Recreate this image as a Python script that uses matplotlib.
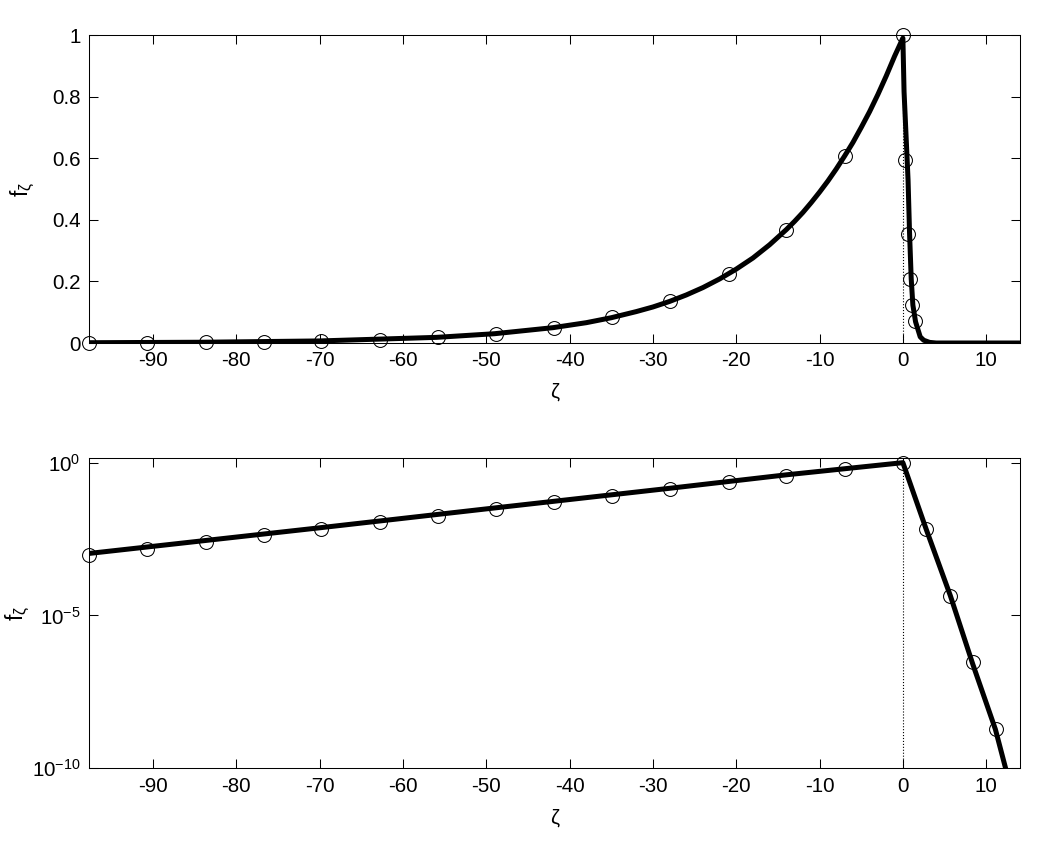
import matplotlib
matplotlib.use('Agg')
import matplotlib.pyplot as plt
from matplotlib.ticker import FixedLocator, FixedFormatter, NullLocator

plt.rcParams['font.family'] = ['Liberation Sans', 'DejaVu Sans']
plt.rcParams['mathtext.fontset'] = 'custom'
plt.rcParams['mathtext.rm'] = 'Liberation Sans'
plt.rcParams['mathtext.it'] = 'Liberation Sans'

# circles, top panel
top_mk_x = [-97.7, -90.7, -83.7, -76.7, -69.8, -62.8, -55.8, -48.8, -41.9, -34.9,
            -27.9, -20.9, -14.0, -7.0, 0.0, 0.28, 0.56, 0.84, 1.12, 1.40]
top_mk_y = [9.3e-4, 1.53e-3, 2.5e-3, 4.2e-3, 6.8e-3, 1.13e-2, 1.86e-2, 3.07e-2, 5.0e-2, 8.3e-2,
            0.136, 0.225, 0.368, 0.607, 1.0, 0.594, 0.355, 0.208, 0.123, 0.070]

# thick line, top panel
top_ln_x = [-97.7, -84, -70, -56, -49, -42, -38, -35, -32, -30, -28, -26, -24, -22, -20,
            -18, -16, -14, -13, -12, -11, -10, -9, -8, -7, -6, -5, -4, -3, -2, -1, 0,
            0.14, 0.62, 0.8, 1.0, 1.2, 1.52, 2.08, 2.5, 3.2, 4.0, 14.1]
top_ln_y = [9.3e-4, 2.5e-3, 6.7e-3, 1.83e-2, 3.02e-2, 4.98e-2, 6.6e-2, 8.21e-2, 0.102, 0.117, 0.135,
            0.156, 0.180, 0.208, 0.240, 0.276, 0.319, 0.368, 0.395, 0.424, 0.456, 0.490, 0.526,
            0.565, 0.607, 0.651, 0.700, 0.751, 0.807, 0.867, 0.931, 0.99,
            0.816, 0.53, 0.357, 0.208, 0.123, 0.069, 0.02, 0.009, 0.002, 0.0, 0.0]

# circles, bottom panel
bot_mk_x = [-97.7, -90.7, -83.7, -76.7, -69.8, -62.8, -55.8, -48.8, -41.9, -34.9,
            -27.9, -20.9, -14.0, -7.0, 0.0, 2.8, 5.69, 8.4, 11.2]
bot_mk_y = [9.3e-4, 1.48e-3, 2.5e-3, 4.2e-3, 6.8e-3, 1.13e-2, 1.86e-2, 3.07e-2, 5.0e-2, 8.3e-2,
            0.136, 0.225, 0.367, 0.607, 1.0, 6.6e-3, 4.4e-5, 3.0e-7, 1.9e-9]

# thick line, bottom panel
bot_ln_x = [-97.7, -70, -49, -28, -14, 0, 2.8, 5.69, 8.4, 11.1, 12.33, 14.1]
bot_ln_y = [1.07e-3, 7.4e-3, 3.3e-2, 0.145, 0.40, 1.0, 6.6e-3, 4.5e-5, 2.5e-7, 1.9e-9, 1e-10, 3e-12]

xticks = [-90, -80, -70, -60, -50, -40, -30, -20, -10, 0, 10]
top_yticks = [0, 0.2, 0.4, 0.6, 0.8, 1]
top_ylabels = ['0', '0.2', '0.4', '0.6', '0.8', '1']
bot_yticks = [1e-10, 1e-5, 1e0]
bot_ylabels = [r'$\mathregular{10^{-10}}$', r'$\mathregular{10^{-5}}$', r'$\mathregular{10^{0}}$']

fs = 14.8

fig = plt.figure(figsize=(10.38, 8.44), dpi=100)
ax1 = fig.add_axes([0.0857, 0.5936, 0.8973, 0.3649])
ax2 = fig.add_axes([0.0857, 0.0897, 0.8973, 0.3673])


def style(ax, ylab_x):
    ax.tick_params(direction='in', length=6.5, width=0.75, top=True, right=True,
                   labelsize=fs, pad=6, colors='black')
    for s in ax.spines.values():
        s.set_linewidth(0.75)
    ax.set_xlim(-97.7, 14.1)
    ax.set_xticks(xticks)
    ax.set_xticklabels([str(t) for t in xticks])
    ax.set_xlabel('ζ', fontsize=fs, labelpad=9)
    ax.set_ylabel(r'f$_{\mathregular{ζ}}$', fontsize=fs + 1.5)
    ax.yaxis.set_label_coords(ylab_x, 0.5)


ax1.plot([0, 0], [0, 1], color='k', ls=':', lw=0.8)
ax1.plot(top_ln_x, top_ln_y, color='k', lw=3.6, solid_joinstyle='round')
ax1.plot(top_mk_x, top_mk_y, ls='none', marker='o', ms=10, mfc='none', mec='k', mew=0.75, clip_on=False)
style(ax1, -0.055)
ax1.set_ylim(0, 1)
ax1.set_yticks(top_yticks)
ax1.set_yticklabels(top_ylabels)

ax2.plot([0, 0], [1e-10, 1], color='k', ls=':', lw=0.8)
ax2.plot(bot_ln_x, bot_ln_y, color='k', lw=3.6, solid_joinstyle='round')
ax2.plot(bot_mk_x, bot_mk_y, ls='none', marker='o', ms=10, mfc='none', mec='k', mew=0.75, clip_on=False)
ax2.set_yscale('log')
style(ax2, -0.06)
ax2.set_ylim(1e-10, 1.39)
ax2.yaxis.set_major_locator(FixedLocator(bot_yticks))
ax2.yaxis.set_major_formatter(FixedFormatter(bot_ylabels))
ax2.yaxis.set_minor_locator(NullLocator())

fig.savefig('out.png', dpi=100)
